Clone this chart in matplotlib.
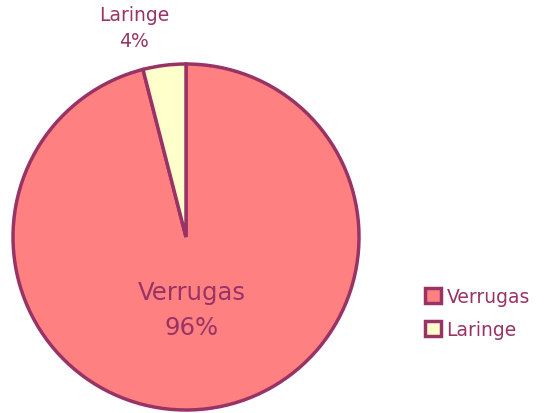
import matplotlib
matplotlib.use("Agg")
import matplotlib.pyplot as plt

# data
labels = ["Verrugas", "Laringe"]
shares = [96, 4]
colors = ["#FF8080", "#FFFFCC"]
edge = "#993366"

fig = plt.figure(figsize=(5.44, 4.14), dpi=100)
ax = fig.add_axes([13 / 544, 3 / 414, 346 / 544, 346 / 414])

wedges, _ = ax.pie(shares, colors=colors, startangle=90, counterclock=False,
                   wedgeprops=dict(edgecolor=edge, linewidth=2.5))
ax.set_xlim(-1, 1)
ax.set_ylim(-1, 1)
ax.set_aspect("equal")

# slice labels
ax.text(0.035, -0.42, f"{labels[0]}\n{shares[0]}%", ha="center", va="center",
        color=edge, fontsize=17.5, linespacing=1.55)
ax.text(-0.30, 1.21, f"{labels[1]}\n{shares[1]}%", ha="center", va="center",
        color=edge, fontsize=13.5, linespacing=1.5, clip_on=False)

leg = fig.legend(wedges, labels, loc="center left", bbox_to_anchor=(425 / 544, 100 / 414),
                 frameon=False, fontsize=13.5, handlelength=0.85, handleheight=0.85,
                 handletextpad=0.3, labelspacing=0.75, borderpad=0, borderaxespad=0)
for t in leg.get_texts():
    t.set_color(edge)

fig.savefig("out.png", dpi=100)
